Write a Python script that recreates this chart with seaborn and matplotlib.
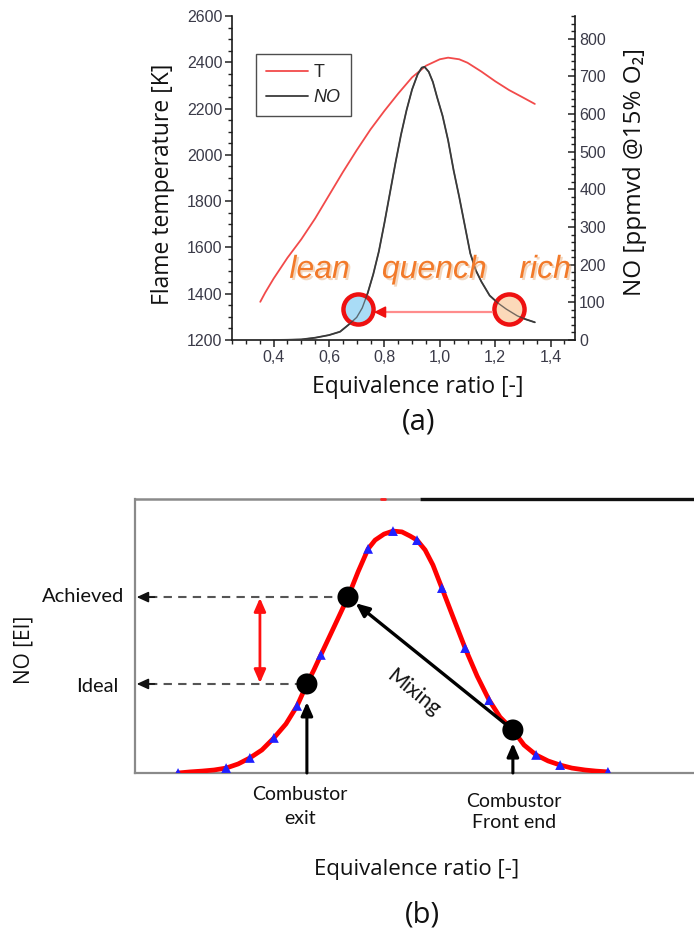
import numpy as np
import pandas as pd
import matplotlib
matplotlib.use("Agg")
import matplotlib.pyplot as plt
import seaborn as sns
from matplotlib.ticker import MultipleLocator, FuncFormatter
from matplotlib.lines import Line2D
import matplotlib.patheffects as pe

sns.set_style("white")
plt.rcParams['font.family'] = ['Open Sans', 'DejaVu Sans']

# ---------------- panel (a) data ----------------
t_phi = [0.352, 0.37, 0.40, 0.45, 0.50, 0.55, 0.60, 0.65, 0.70, 0.75, 0.80, 0.85, 0.90, 0.95,
         1.00, 1.03, 1.07, 1.10, 1.15, 1.20, 1.25, 1.30, 1.343]
t_temp = [1365, 1405, 1465, 1555, 1635, 1725, 1825, 1925, 2020, 2110, 2190, 2265, 2335, 2385,
          2413, 2420, 2413, 2398, 2360, 2318, 2280, 2248, 2220]

no_phi = [0.40, 0.45, 0.50, 0.55, 0.60, 0.64, 0.67, 0.70, 0.72, 0.74, 0.76, 0.78, 0.80, 0.82,
          0.84, 0.86, 0.88, 0.90, 0.92, 0.935, 0.945, 0.96, 0.975, 0.99, 1.01, 1.03, 1.05, 1.07,
          1.09, 1.11, 1.13, 1.15, 1.18, 1.21, 1.24, 1.28, 1.31, 1.343]
no_ppm = [0, 0.5, 1.5, 6, 13, 22, 40, 60, 85, 125, 175, 235, 310, 390,
          470, 545, 610, 665, 705, 723, 725, 712, 685, 645, 595, 530, 450, 380,
          305, 230, 185, 155, 118, 98, 82, 64, 55, 47]

circle_phi = [0.703, 1.25]
circle_no = [82, 82]
circle_fill = ['#a9dcf6', '#fbd9b9']

regime_labels = ['lean', 'quench', 'rich']
regime_phi = [0.566, 0.98, 1.38]
regime_no = [186, 186, 186]

left_ticks = [1200, 1400, 1600, 1800, 2000, 2200, 2400, 2600]
right_ticks = [0, 100, 200, 300, 400, 500, 600, 700, 800]
x_ticks = [0.4, 0.6, 0.8, 1.0, 1.2, 1.4]

# ---------------- panel (b) data ----------------
curve_phi = [0.154, 0.197, 0.240, 0.283, 0.326, 0.369, 0.411, 0.454, 0.497, 0.540, 0.580, 0.615,
             0.640, 0.665, 0.712, 0.762, 0.798, 0.834, 0.859, 0.891, 0.923, 0.955, 0.984, 1.009,
             1.038, 1.066, 1.098, 1.138, 1.181, 1.224, 1.267, 1.306, 1.352, 1.392, 1.435, 1.478,
             1.521, 1.563, 1.610, 1.649, 1.692]
curve_no = [0.000, 0.004, 0.007, 0.011, 0.018, 0.033, 0.055, 0.084, 0.128, 0.179, 0.245, 0.325,
            0.376, 0.431, 0.533, 0.642, 0.734, 0.818, 0.850, 0.872, 0.883, 0.880, 0.865, 0.850,
            0.814, 0.759, 0.675, 0.569, 0.456, 0.354, 0.266, 0.204, 0.157, 0.102, 0.066, 0.044,
            0.029, 0.018, 0.011, 0.007, 0.004]

marker_phi = [0.154, 0.326, 0.411, 0.497, 0.580, 0.665, 0.834, 0.923, 1.009, 1.098, 1.181, 1.267,
              1.435, 1.521, 1.692]
marker_no = [0.000, 0.018, 0.055, 0.128, 0.245, 0.431, 0.818, 0.883, 0.850, 0.675, 0.456, 0.266,
             0.066, 0.029, 0.004]

dot_names = ['Ideal', 'Achieved', 'Front end']
dot_phi = [0.615, 0.762, 1.352]
dot_no = [0.325, 0.642, 0.157]

W, H = 694, 935
fig = plt.figure(figsize=(W / 100, H / 100), dpi=100)


def fx(px):
    return px / W


def fy(py):
    return 1 - py / H


# ======================= panel (a) =======================
axA = fig.add_axes([fx(232), fy(340), 343 / W, 324 / H])
axA2 = axA.twinx()

sns.lineplot(x=t_phi, y=t_temp, ax=axA, color='#f24a4a', lw=1.3, legend=False, sort=False)
sns.lineplot(x=no_phi, y=no_ppm, ax=axA2, color='#3a3a3a', lw=1.3, legend=False, sort=False)

axA.set_xlim(0.25, 1.488)
axA.set_ylim(1200, 2600)
axA2.set_ylim(0, 860)

tick_font = dict(family=['Liberation Sans', 'DejaVu Sans'], size=11.5, color='#3a3a48')
axA.set_xticks(x_ticks)
axA.xaxis.set_minor_locator(MultipleLocator(0.05))
axA.xaxis.set_major_formatter(FuncFormatter(lambda v, p: f"{v:.1f}".replace('.', ',')))
axA.set_yticks(left_ticks)
axA.yaxis.set_minor_locator(MultipleLocator(50))
axA2.set_yticks(right_ticks)
axA2.yaxis.set_minor_locator(MultipleLocator(20))

axA.tick_params(axis='both', which='major', direction='out', length=5, width=1.1, color='#222',
                left=True, bottom=True, right=False, top=False, pad=2)
axA.tick_params(axis='both', which='minor', direction='out', length=3, width=1.0, color='#222',
                left=True, bottom=True, right=False, top=False)
axA2.tick_params(axis='y', which='major', direction='in', length=5, width=1.1, color='#222',
                 right=True, left=False, pad=3)
axA2.tick_params(axis='y', which='minor', direction='in', length=3, width=1.0, color='#222',
                 right=True, left=False)
for lab in axA.get_xticklabels() + axA.get_yticklabels() + axA2.get_yticklabels():
    lab.set_fontfamily(tick_font['family'])
    lab.set_fontsize(tick_font['size'])
    lab.set_color(tick_font['color'])

for ax in (axA, axA2):
    ax.spines['top'].set_visible(False)
    for s in ax.spines.values():
        s.set_color('#1a1a1a')
        s.set_linewidth(1.2)
axA.spines['right'].set_visible(False)
axA2.spines['left'].set_visible(False)
axA2.spines['bottom'].set_visible(False)
axA.set_xlabel('')
axA.set_ylabel('')
axA2.set_ylabel('')

# legend
h_t = Line2D([], [], color='#f24a4a', lw=1.3)
h_no = Line2D([], [], color='#3a3a3a', lw=1.3)
leg = axA2.legend([h_t, h_no], ['T', 'NO'], loc='upper left', bbox_to_anchor=(0.07, 0.883),
                  borderaxespad=0, frameon=True, fancybox=False,
                  handlelength=2.35, handletextpad=0.3, borderpad=0.55, labelspacing=0.45,
                  prop=dict(family=['Liberation Sans', 'DejaVu Sans'], size=13))
leg.get_frame().set_edgecolor('#222')
leg.get_frame().set_linewidth(1.0)
leg.get_texts()[1].set_fontstyle('italic')

# circles and quench arrow
axA2.plot([1.19, 0.79], [74, 74], color='#ff8c8c', lw=1.6, zorder=4)
axA2.annotate('', xy=(0.762, 74), xytext=(0.80, 74),
              arrowprops=dict(arrowstyle='-|>,head_length=0.7,head_width=0.35', color='#f01010',
                              lw=1.2, shrinkA=0, shrinkB=0), zorder=4)
for cx, cy, cf in zip(circle_phi, circle_no, circle_fill):
    axA2.scatter([cx], [cy], s=470, facecolor=cf, edgecolor='#ee1111', linewidths=3.2, zorder=3)
sns.lineplot(x=no_phi, y=no_ppm, ax=axA2, color='#3a3a3a', lw=1.0, legend=False, sort=False,
             alpha=0.7, zorder=3.5)

for txt, xx, yy in zip(regime_labels, regime_phi, regime_no):
    axA2.text(xx, yy, txt, ha='center', va='center', fontsize=23, style='italic', color='#f27a2a',
              family=['Liberation Sans', 'DejaVu Sans'], zorder=6,
              path_effects=[pe.withSimplePatchShadow(offset=(1.5, -1.5), shadow_rgbFace='#e8b080',
                                                     alpha=0.5)])

fig.text(fx(163), fy(184), 'Flame temperature [K]', rotation=90, ha='center', va='center',
         fontsize=16.5, color='#111')
fig.text(fx(635), fy(172), 'NO [ppmvd @15% O\u2082]', rotation=90, ha='center', va='center',
         fontsize=17.5, color='#111')
fig.text(fx(418), fy(387), 'Equivalence ratio [-]', ha='center', va='center', fontsize=16.5,
         color='#111')
fig.text(fx(419), fy(422), '(a)', ha='center', va='center', fontsize=21, color='#111')

# ======================= panel (b) =======================
axB = fig.add_axes([fx(135), fy(773), 559 / W, 274 / H])
axB.set_xlim(0, 2.0)
axB.set_ylim(0, 1.0)
axB.set_xticks([])
axB.set_yticks([])
for side in ('top', 'right'):
    axB.spines[side].set_visible(False)
for side in ('left', 'bottom'):
    axB.spines[side].set_color('#8a8a8a')
    axB.spines[side].set_linewidth(1.6)
axB.plot([0, 1.02], [1.0, 1.0], color='#8a8a8a', lw=1.8, clip_on=False, solid_capstyle='butt')
axB.plot([1.02, 2.0], [1.0, 1.0], color='#111111', lw=2.4, clip_on=False, solid_capstyle='butt')
axB.plot([0.88, 0.895], [1.0, 1.0], color='#ff2020', lw=2.0, clip_on=False)

sns.lineplot(x=curve_phi, y=curve_no, ax=axB, color='#ff0000', lw=3.4, legend=False, sort=False,
             zorder=3)
sns.scatterplot(x=marker_phi, y=marker_no, ax=axB, marker='^', s=50, color='#2020ff',
                edgecolor='none', zorder=4, legend=False)

for name, idx in (('Achieved', 1), ('Ideal', 0)):
    yv = dot_no[idx]
    axB.plot([0.05, dot_phi[idx]], [yv, yv], ls=(0, (4, 3)), color='#555555', lw=1.5, zorder=2)
    axB.annotate('', xy=(0.006, yv), xytext=(0.07, yv),
                 arrowprops=dict(arrowstyle='-|>,head_length=0.7,head_width=0.32', color='#111',
                                 lw=1.2, shrinkA=0, shrinkB=0))

axB.annotate('', xy=(0.447, 0.639), xytext=(0.447, 0.328),
             arrowprops=dict(arrowstyle='<|-|>,head_length=0.8,head_width=0.35', color='#ff1010',
                             lw=2.0, shrinkA=0, shrinkB=0))

axB.annotate('', xy=(0.615, 0.259), xytext=(0.615, 0.0),
             arrowprops=dict(arrowstyle='-|>,head_length=0.8,head_width=0.35', color='#000',
                             lw=2.2, shrinkA=0, shrinkB=0), zorder=5)
axB.annotate('', xy=(1.352, 0.109), xytext=(1.352, 0.0),
             arrowprops=dict(arrowstyle='-|>,head_length=0.8,head_width=0.35', color='#000',
                             lw=2.2, shrinkA=0, shrinkB=0), zorder=5)

axB.annotate('', xy=(dot_phi[1], dot_no[1]), xytext=(dot_phi[2], dot_no[2]),
             arrowprops=dict(arrowstyle='-|>,head_length=0.8,head_width=0.35', color='#000',
                             lw=2.4, shrinkA=0, shrinkB=7), zorder=5)

sns.scatterplot(x=dot_phi, y=dot_no, ax=axB, s=230, color='#000000', edgecolor='none', zorder=6,
                legend=False)
axB.set_xlabel('')
axB.set_ylabel('')

axB.text(0.995, 0.292, 'Mixing', rotation=-39, rotation_mode='anchor', ha='center', va='center',
         fontsize=15, family=['Lato', 'DejaVu Sans'], color='#111')

lab_font = ['Lato', 'DejaVu Sans']
fig.text(fx(124), fy(597), 'Achieved', ha='right', va='center', fontsize=14.5, family=lab_font,
         color='#111')
fig.text(fx(119), fy(686), 'Ideal', ha='right', va='center', fontsize=14.5, family=lab_font,
         color='#111')
fig.text(fx(24), fy(650), 'NO [EI]', rotation=90, ha='center', va='center', fontsize=15,
         color='#111')
fig.text(fx(300), fy(807), 'Combustor\nexit', ha='center', va='center', fontsize=14,
         family=lab_font, linespacing=1.5, color='#111')
fig.text(fx(514), fy(812), 'Combustor\nFront end', ha='center', va='center', fontsize=14,
         family=lab_font, linespacing=1.3, color='#111')
fig.text(fx(417), fy(870), 'Equivalence ratio [-]', ha='center', va='center', fontsize=16,
         color='#111')
fig.text(fx(422), fy(915), '(b)', ha='center', va='center', fontsize=21, color='#111')

fig.savefig('out.png', dpi=100)
